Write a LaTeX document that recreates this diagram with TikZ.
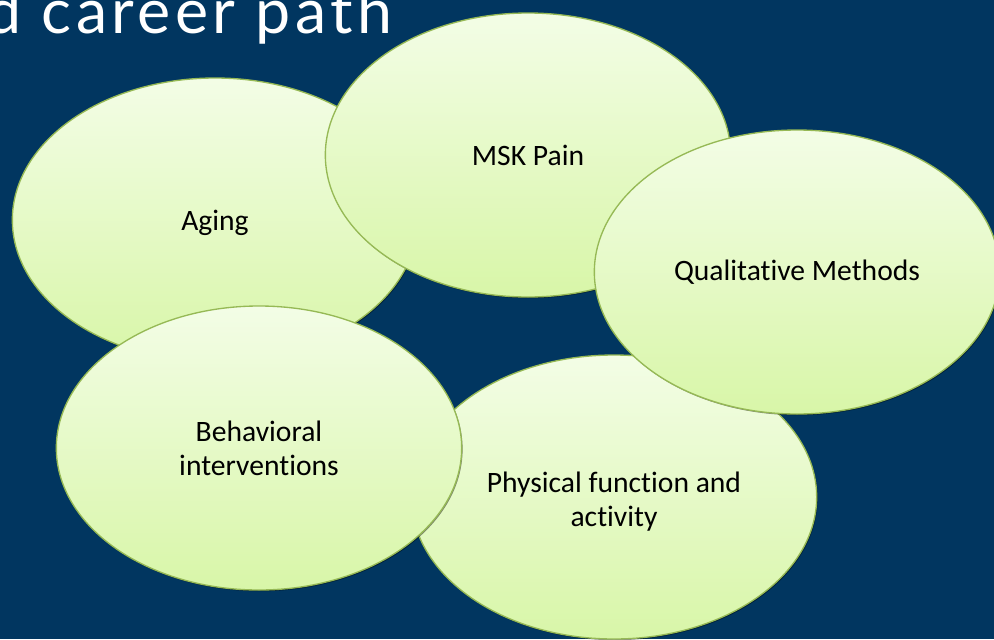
\documentclass[tikz,border=0pt]{standalone}
\usepackage{fontspec}
\setmainfont{Carlito}[Ligatures=NoCommon]
\newfontfamily\titlefont{Lato}[LetterSpace=7]
\usetikzlibrary{shapes.geometric,shadows}
\definecolor{slidebg}{RGB}{1,54,96}
\definecolor{bubbletop}{RGB}{243,253,230}
\definecolor{bubblebottom}{RGB}{216,246,168}
\definecolor{bubbleedge}{RGB}{150,185,85}
% set a label a little lower inside its bubble without changing the bubble
\newcommand{\lowerby}[2]{\raisebox{-#1}[\height][\depth]{#2}}
\begin{document}
\begin{tikzpicture}[x=0.75pt,y=-0.75pt,
  bubble/.style={ellipse, draw=bubbleedge, line width=1pt,
    top color=bubbletop, bottom color=bubblebottom,
    minimum width=304pt, minimum height=213pt, inner sep=0pt,
    align=center, text=black,
    font=\fontsize{22.2}{25.5}\selectfont,
    drop shadow={shadow xshift=0.7pt, shadow yshift=-0.9pt, opacity=0.45, fill=black}},
  heading/.style={anchor=base west, inner sep=0pt, text=white,
    font=\titlefont\fontsize{47}{47}\selectfont}]
  % slide background
  \fill[slidebg] (0,0) rectangle (994,639);
  \clip (0,0) rectangle (994,639);
  % slide heading, running off the left edge
  \node[heading] (title) at (-14,33) {d career path};
  % overlapping topic bubbles, back to front
  \node[bubble] (aging) at (215,220) {\lowerby{2.2pt}{Aging}};
  \node[bubble] (msk) at (528,155) {MSK Pain};
  \node[bubble] (phys) at (614,497)
    {\lowerby{4pt}{\begin{tabular}{@{}c@{}}Physical function and\\activity\end{tabular}}};
  \node[bubble] (qual) at (797,272) {Qualitative Methods};
  \node[bubble] (behav) at (259,448) {Behavioral\\interventions};
\end{tikzpicture}
\end{document}
